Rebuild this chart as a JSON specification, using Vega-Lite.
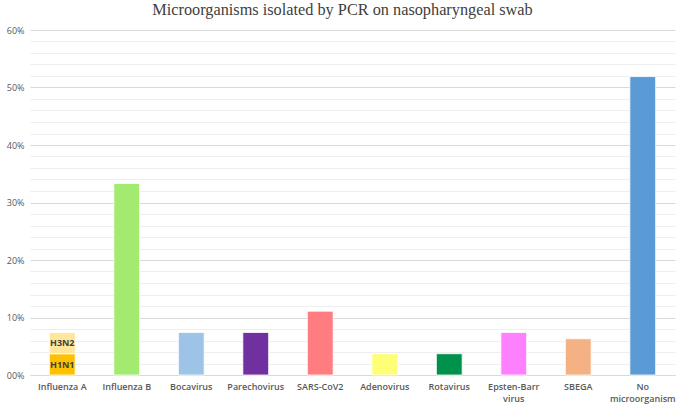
{
  "$schema": "https://vega.github.io/schema/vega-lite/v6.json",
  "autosize": {"type": "none"},
  "width": 645,
  "height": 345,
  "padding": {"left": 30, "top": 30, "right": 10, "bottom": 32},
  "background": "white",
  "config": {"view": {"stroke": null}},
  "title": {
    "text": "Microorganisms isolated by PCR on nasopharyngeal swab",
    "font": "Liberation Serif",
    "fontSize": 16.3,
    "fontWeight": "normal",
    "color": "#404040",
    "anchor": "middle",
    "dx": -10,
    "offset": 8
  },
  "data": {
    "values": [
      {"category": "Influenza A", "series": "H1N1", "value": 0.037},
      {"category": "Influenza A", "series": "H3N2", "value": 0.037},
      {"category": "Influenza B", "series": "Influenza B", "value": 0.333},
      {"category": "Bocavirus", "series": "Bocavirus", "value": 0.074},
      {"category": "Parechovirus", "series": "Parechovirus", "value": 0.074},
      {"category": "SARS-CoV2", "series": "SARS-CoV2", "value": 0.111},
      {"category": "Adenovirus", "series": "Adenovirus", "value": 0.037},
      {"category": "Rotavirus", "series": "Rotavirus", "value": 0.037},
      {"category": "Epsten-Barr virus", "series": "Epsten-Barr virus", "value": 0.074},
      {"category": "SBEGA", "series": "SBEGA", "value": 0.063},
      {"category": "No microorganism", "series": "No microorganism", "value": 0.519}
    ]
  },
  "encoding": {
    "x": {
      "field": "category",
      "type": "nominal",
      "sort": null,
      "scale": {"paddingInner": 0.6, "paddingOuter": 0.3},
      "axis": {
        "title": null,
        "labelAngle": 0,
        "labelFont": "Open Sans",
        "labelFontSize": 9,
        "labelFontWeight": 600,
        "labelColor": "#595959",
        "labelPadding": 7,
        "labelLineHeight": 12,
        "labelBaseline": "top",
        "ticks": false,
        "domainColor": "#d9d9d9",
        "labelExpr": "datum.label == 'Epsten-Barr virus' ? ['Epsten-Barr', 'virus'] : datum.label == 'No microorganism' ? ['No', 'microorganism'] : datum.label"
      }
    },
    "y": {
      "field": "value",
      "type": "quantitative",
      "stack": "zero",
      "scale": {"domain": [0, 0.6], "nice": false},
      "axis": {
        "title": null,
        "values": [0, 0.02, 0.04, 0.06, 0.08, 0.1, 0.12, 0.14, 0.16, 0.18, 0.2, 0.22, 0.24, 0.26, 0.28, 0.3, 0.32, 0.34, 0.36, 0.38, 0.4, 0.42, 0.44, 0.46, 0.48, 0.5, 0.52, 0.54, 0.56, 0.58, 0.6],
        "labelExpr": "round(datum.value * 100) % 10 === 0 ? (datum.value === 0 ? '00%' : format(datum.value, '.0%')) : ''",
        "labelFont": "Open Sans",
        "labelFontSize": 9,
        "labelColor": "#595959",
        "labelPadding": 6,
        "ticks": false,
        "domain": false,
        "gridColor": {"condition": {"test": "round(datum.value * 100) % 10 === 0", "value": "#d9d9d9"}, "value": "#eeeeee"},
        "gridWidth": 1
      }
    }
  },
  "layer": [
    {
      "mark": {"type": "bar", "stroke": "white", "strokeWidth": 0.8},
      "encoding": {
        "color": {
          "field": "series",
          "type": "nominal",
          "scale": {
            "domain": ["H1N1", "H3N2", "Influenza B", "Bocavirus", "Parechovirus", "SARS-CoV2", "Adenovirus", "Rotavirus", "Epsten-Barr virus", "SBEGA", "No microorganism"],
            "range": ["#FFC000", "#FFE699", "#A2EA70", "#9DC3E6", "#7030A0", "#FF7C80", "#FFFF77", "#00914C", "#FF80FF", "#F4B183", "#5B9BD5"]
          },
          "legend": null
        },
        "order": {"field": "series", "sort": "ascending"}
      }
    },
    {
      "transform": [{"filter": "datum.series === 'H1N1' || datum.series === 'H3N2'"}],
      "mark": {"type": "text", "font": "Open Sans", "fontSize": 9, "fontWeight": "bold", "color": "#404040", "baseline": "middle", "dy": 11},
      "encoding": {
        "text": {"field": "series"},
        "order": {"field": "series", "sort": "ascending"}
      }
    }
  ]
}
